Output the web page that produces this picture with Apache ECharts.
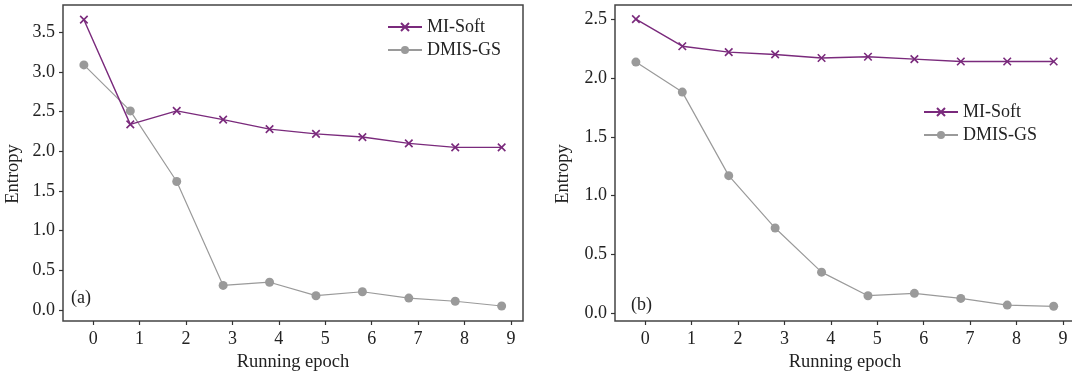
<!DOCTYPE html>
<html>
<head>
<meta charset="utf-8">
<script src="https://cdn.jsdelivr.net/npm/echarts@6/dist/echarts.min.js"></script>
<style>html,body{margin:0;padding:0;background:#fff}#c{width:1072px;height:374px}</style>
</head>
<body>
<div id="c"></div>
<script>
// Data (points sit slightly left of each epoch tick)
const epochPositions = [-0.2, 0.8, 1.8, 2.8, 3.8, 4.8, 5.8, 6.8, 7.8, 8.8];
const xTicks = [0, 1, 2, 3, 4, 5, 6, 7, 8, 9];
const yTicksA = [0, 0.5, 1.0, 1.5, 2.0, 2.5, 3.0, 3.5];
const yTicksB = [0, 0.5, 1.0, 1.5, 2.0, 2.5];
const miSoftA = [3.66, 2.34, 2.51, 2.40, 2.28, 2.22, 2.18, 2.10, 2.05, 2.05];
const dmisGsA = [3.09, 2.51, 1.62, 0.31, 0.35, 0.18, 0.23, 0.15, 0.11, 0.05];
const miSoftB = [2.50, 2.27, 2.22, 2.20, 2.17, 2.18, 2.16, 2.14, 2.14, 2.14];
const dmisGsB = [2.135, 1.88, 1.17, 0.725, 0.35, 0.15, 0.17, 0.127, 0.07, 0.06];
const seriesNames = ['MI-Soft', 'DMIS-GS'];
const panelLabels = ['(a)', '(b)'];

const PURPLE = '#7a2a7c';
const GRAY = '#9a9a9a';
const FONT = 'Liberation Serif';
const CROSS = 'path://M0,0 L10,10 M10,0 L0,10';

const pair = (xs, ys) => xs.map((x, i) => [x, ys[i]]);

function xAxis(gi) {
  return {
    type: 'value', gridIndex: gi, min: -0.65, max: 9.26,
    name: 'Running epoch', nameLocation: 'middle', nameGap: 31,
    nameTextStyle: {fontFamily: FONT, fontSize: 18.5, color: '#222'},
    axisLine: {show: false, onZero: false},
    splitLine: {show: false},
    axisTick: {show: true, inside: false, length: 4, lineStyle: {color: '#333', width: 1.2}, customValues: xTicks},
    axisLabel: {fontFamily: FONT, fontSize: 18, color: '#222', margin: 9, customValues: xTicks, formatter: v => String(v)}
  };
}
function yAxis(gi, min, max, ticks, gap) {
  return {
    type: 'value', gridIndex: gi, min: min, max: max,
    name: 'Entropy', nameLocation: 'middle', nameGap: gap, nameRotate: 90,
    nameTextStyle: {fontFamily: FONT, fontSize: 18.5, color: '#222', padding: [0, 22, 0, 0]},
    axisLine: {show: false, onZero: false},
    splitLine: {show: false},
    axisTick: {show: true, inside: false, length: 4, lineStyle: {color: '#333', width: 1.2}, customValues: ticks},
    axisLabel: {fontFamily: FONT, fontSize: 18, color: '#222', margin: 8, customValues: ticks, formatter: v => v.toFixed(1)}
  };
}
function lineSeries(name, xi, data, isCross) {
  return {
    name: name, type: 'line', xAxisIndex: xi, yAxisIndex: xi, data: data,
    symbol: isCross ? CROSS : 'circle', symbolSize: isCross ? 7.5 : 9,
    showSymbol: true,
    lineStyle: {color: isCross ? PURPLE : GRAY, width: isCross ? 1.4 : 1.2},
    itemStyle: isCross ? {color: PURPLE, borderColor: PURPLE, borderWidth: 1.6} : {color: GRAY, borderWidth: 0},
    emphasis: {disabled: true},
    z: isCross ? 3 : 2, animation: false
  };
}
function legend(left, top) {
  return {
    left: left, top: top, orient: 'vertical', itemWidth: 34, itemHeight: 10, itemGap: 5, padding: 0,
    textStyle: {fontFamily: FONT, fontSize: 18, color: '#222'},
    data: seriesNames
  };
}
function grid(left) {
  return {left: left, top: 5, width: 460, height: 316, containLabel: false, outerBoundsMode: 'none',
          show: true, borderColor: '#444', borderWidth: 1.5, backgroundColor: 'transparent'};
}

const chart = echarts.init(document.getElementById('c'), null, {renderer: 'canvas'});
chart.setOption({
  animation: false,
  backgroundColor: '#fff',
  grid: [grid(63), grid(615)],
  xAxis: [xAxis(0), xAxis(1)],
  yAxis: [yAxis(0, -0.139, 3.845, yTicksA, 40), yAxis(1, -0.065, 2.62, yTicksB, 42)],
  legend: [legend(387, 18), legend(923, 103)],
  graphic: [
    {type: 'text', left: 71, top: 289, style: {text: panelLabels[0], font: '18px "' + FONT + '"', fill: '#222'}},
    {type: 'text', left: 631, top: 296, style: {text: panelLabels[1], font: '18px "' + FONT + '"', fill: '#222'}}
  ],
  series: [
    lineSeries(seriesNames[1], 0, pair(epochPositions, dmisGsA), false),
    lineSeries(seriesNames[0], 0, pair(epochPositions, miSoftA), true),
    lineSeries(seriesNames[1], 1, pair(epochPositions, dmisGsB), false),
    lineSeries(seriesNames[0], 1, pair(epochPositions, miSoftB), true)
  ]
});
</script>
</body>
</html>
